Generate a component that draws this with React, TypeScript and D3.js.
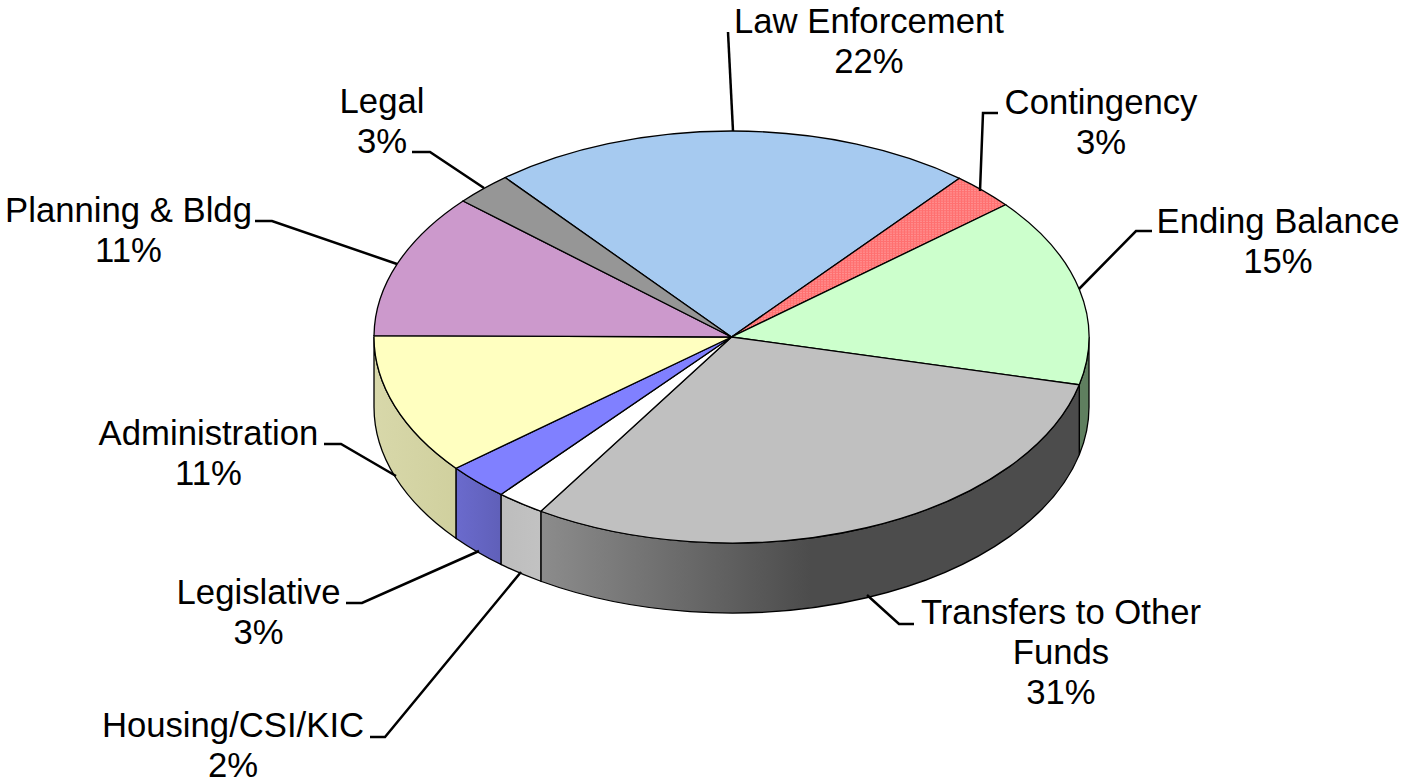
import React from 'react';
import * as d3 from 'd3';

// measured slice shares, in drawing order (clockwise from Law Enforcement)
const categories = ['Law Enforcement', 'Contingency', 'Ending Balance', 'Transfers to Other Funds', 'Housing/CSI/KIC', 'Legislative', 'Administration', 'Planning & Bldg', 'Legal'];
const shares = [21.9, 2.9, 14.8, 30.2, 2.2, 2.85, 11.08, 11.37, 2.6];
const percentLabels = ['22%', '3%', '15%', '31%', '2%', '3%', '11%', '11%', '3%'];
const topColors = ['#a6caf0', 'url(#dots)', '#ccffcc', '#c0c0c0', '#ffffff', '#8080ff', '#ffffc0', '#cc99cc', '#969696'];
const wallColors = ['#7a95b0', '#b06060', '#5f7f5f', 'url(#wallTransfers)', 'url(#wallHousing)', 'url(#wallLegislative)', 'url(#wallAdmin)', '#8f6f8f', '#6f6f6f'];

// label layout: wrapped name lines, centre x, first baseline, and the leader line
const labelLayout = [
  { lines: ['Law Enforcement'], x: 869, y: 33, leader: [[728, 32], [733, 131]] },
  { lines: ['Contingency'], x: 1101, y: 114, leader: [[998, 113], [983, 113], [980, 191]] },
  { lines: ['Ending Balance'], x: 1278, y: 233, leader: [[1152, 231], [1136, 231], [1079, 289]] },
  { lines: ['Transfers to Other', 'Funds'], x: 1061, y: 624, leader: [[914, 624], [899, 624], [867, 595]] },
  { lines: ['Housing/CSI/KIC'], x: 233, y: 737, leader: [[370, 737], [385, 737], [521, 572]] },
  { lines: ['Legislative'], x: 258.5, y: 604, leader: [[346, 603], [362, 603], [479, 551]] },
  { lines: ['Administration'], x: 208.5, y: 445, leader: [[324, 444], [341, 444], [396, 476]] },
  { lines: ['Planning & Bldg'], x: 128.5, y: 222, leader: [[255, 221], [272, 221], [397, 264]] },
  { lines: ['Legal'], x: 382, y: 113, leader: [[412, 152], [430, 152], [484, 188]] },
];

const cx = 731.5, cy = 337, rx = 357.5, ry = 206, depth = 70;
const startDeg = -39.3;

export default function App() {
  const pie = d3.pie<number>().sort(null)
    .startAngle((startDeg * Math.PI) / 180)
    .endAngle(((startDeg + 360) * Math.PI) / 180);
  const arcs = pie(shares);
  const arc = d3.arc<d3.PieArcDatum<number>>().innerRadius(0).outerRadius(rx);
  const yScale = ry / rx;

  // point on the rim, angle measured clockwise from 12 o'clock
  const rim = (a: number, drop = 0): [number, number] => [cx + rx * Math.sin(a), cy - ry * Math.cos(a) + drop];

  // outer wall of a slice: only the part of the rim facing the viewer
  const wallPath = (a0: number, a1: number) => {
    const lo = Math.max(a0, Math.PI / 2);
    const hi = Math.min(a1, (3 * Math.PI) / 2);
    if (hi <= lo) return null;
    const p0 = rim(lo), p1 = rim(hi), p2 = rim(hi, depth), p3 = rim(lo, depth);
    return `M${p0}A${rx},${ry} 0 0 1 ${p1}L${p2}A${rx},${ry} 0 0 0 ${p3}Z`;
  };

  const line = d3.line();

  return (
    <svg width={1401} height={780} style={{ position: 'absolute', left: 0, top: 0 }}>
      <defs>
        <pattern id="dots" width={3} height={3} patternUnits="userSpaceOnUse">
          <rect width={3} height={3} fill="#ff7070" />
          <rect width={1} height={1} fill="#ffd0d0" />
        </pattern>
        <linearGradient id="wallTransfers" gradientUnits="userSpaceOnUse" x1={541} x2={1080} y1={0} y2={0}>
          <stop offset="0" stopColor="#8c8c8c" />
          <stop offset="0.5" stopColor="#4c4c4c" />
          <stop offset="1" stopColor="#4c4c4c" />
        </linearGradient>
        <linearGradient id="wallHousing" gradientUnits="userSpaceOnUse" x1={503} x2={541} y1={0} y2={0}>
          <stop offset="0" stopColor="#bdbdbd" />
          <stop offset="1" stopColor="#c2c2c2" />
        </linearGradient>
        <linearGradient id="wallLegislative" gradientUnits="userSpaceOnUse" x1={458} x2={503} y1={0} y2={0}>
          <stop offset="0" stopColor="#6a6acc" />
          <stop offset="1" stopColor="#5f5fb8" />
        </linearGradient>
        <linearGradient id="wallAdmin" gradientUnits="userSpaceOnUse" x1={373} x2={458} y1={0} y2={0}>
          <stop offset="0" stopColor="#d8d8aa" />
          <stop offset="1" stopColor="#d0d09e" />
        </linearGradient>
      </defs>

      <g stroke="#000" strokeWidth={1.3}>
        {arcs.map((d, i) => {
          const path = wallPath(d.startAngle, d.endAngle);
          return path ? <path key={categories[i]} d={path} fill={wallColors[i]} /> : null;
        })}
      </g>

      <g transform={`translate(${cx},${cy}) scale(1,${yScale})`}>
        {arcs.map((d, i) => (
          <path key={categories[i]} d={arc(d) as string} fill={topColors[i]} stroke="#000" strokeWidth={1.3} vectorEffect="non-scaling-stroke" />
        ))}
      </g>

      <g fill="none" stroke="#000" strokeWidth={2.5}>
        {labelLayout.map((l, i) => (
          <path key={i} d={line(l.leader as [number, number][]) as string} />
        ))}
      </g>

      <g fontFamily="'Liberation Sans', Arial, sans-serif" fontSize={34.7} fill="#000" textAnchor="middle">
        {labelLayout.map((l, i) => (
          <text key={categories[i]} x={l.x} y={l.y}>
            {[...l.lines, percentLabels[i]].map((t, j) => (
              <tspan key={j} x={l.x} dy={j === 0 ? 0 : 40.2}>{t}</tspan>
            ))}
          </text>
        ))}
      </g>
    </svg>
  );
}
